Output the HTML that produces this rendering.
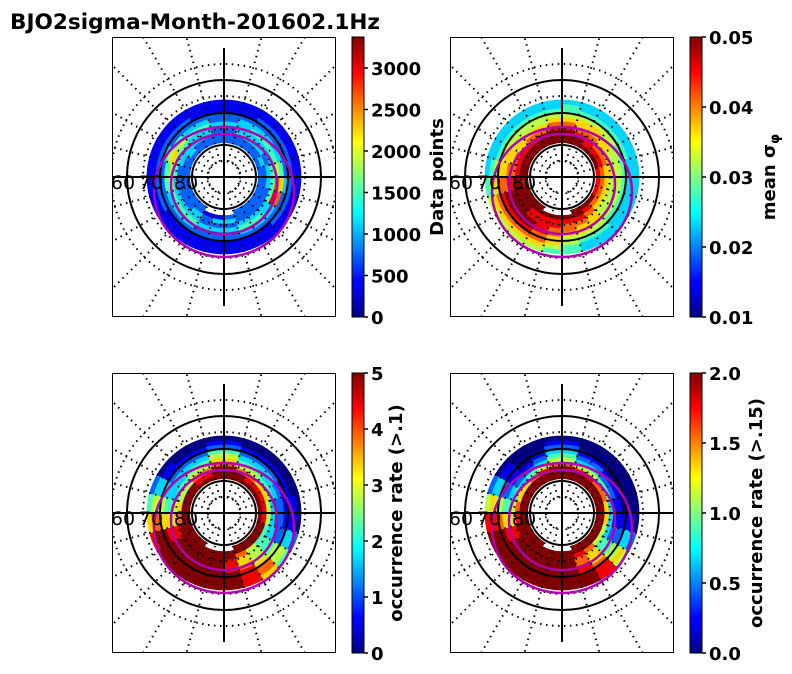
<!DOCTYPE html>
<html><head><meta charset="utf-8">
<style>
body{margin:0;background:#fff;width:792px;height:674px;overflow:hidden;font-family:"DejaVu Sans",sans-serif}
svg{display:block}
</style></head>
<body>
<svg id="s" width="792" height="674" xmlns="http://www.w3.org/2000/svg">
<defs>
<linearGradient id="jet" x1="0" y1="1" x2="0" y2="0">
<stop offset="0" stop-color="#00007f"/><stop offset="0.11" stop-color="#0000ff"/><stop offset="0.125" stop-color="#0000ff"/>
<stop offset="0.34" stop-color="#00dfff"/><stop offset="0.375" stop-color="#00ffff"/><stop offset="0.5" stop-color="#80ff80"/>
<stop offset="0.625" stop-color="#ffff00"/><stop offset="0.66" stop-color="#ffdf00"/><stop offset="0.875" stop-color="#ff0000"/><stop offset="1" stop-color="#7f0000"/>
</linearGradient>
</defs>
<text x="10" y="29" font-size="21.6" font-weight="bold">BJO2sigma-Month-201602.1Hz</text>
</svg>
<script>
// ring data (inner -> outer), 24 sectors clockwise from top; digits 0-9 = fraction of colour scale, '.' = no data
const panel1Rings=["22222222222...2222222222","222232222222112222223222","233323322223323222233332","233334443332223333444332","334445783443334445565443","233334673332223334454332","222222322222222222232222","112222222111111122222211","111111111111111111111111","111111111111111111111111"];
const panel2Rings=["99999888999...9999999999","998887777899999998999999","988776666788888999888899","877666555677888998776778","766655555667789998766667","666555555566789997665556","555544444555678887655555","444443333445677776544444","433333333334566665433333","333333333334455554333333"];
const panel3Rings=["99999999999...9999999999","998888899999999999999889","977665544579999997655779","755443334568999986544557","644332234568999985433446","533322224578999986433335","422211125689999996532224","211111135789999997531112","100001135789999997531001","000000024689999986420000"];
const panel4Rings=["99999999999...9999999999","999999999999999999999999","988776655789999998766789","755443334679999986543457","533221124679999985432235","422111124689999986421124","311000125789999997521013","200000135899999998531002","100000136899999998631001","000000025899999998520000"];
const cb1Ticks=[0,500,1000,1500,2000,2500,3000];const cb1Max=3373;
const cb2Ticks=[0.01,0.02,0.03,0.04,0.05];
const cb3Ticks=[0,1,2,3,4,5];
const cb4Ticks=[0.0,0.5,1.0,1.5,2.0];

const NS="http://www.w3.org/2000/svg";
const svg=document.getElementById('s');
function mk(t,a,p){const e=document.createElementNS(NS,t);for(const k in a)e.setAttribute(k,a[k]);(p||svg).appendChild(e);return e;}
function jet(v){v=Math.max(0,Math.min(1,v));
 const r=Math.max(0,Math.min(1,1.5-Math.abs(4*v-3))),g=Math.max(0,Math.min(1,1.5-Math.abs(4*v-2))),b=Math.max(0,Math.min(1,1.5-Math.abs(4*v-1)));
 return `rgb(${Math.round(r*255)},${Math.round(g*255)},${Math.round(b*255)})`;}
const panels=[
 {x:112,y:37,rings:panel1Rings,name:'data-points'},
 {x:450,y:37,rings:panel2Rings,name:'mean-sigma'},
 {x:112,y:373,rings:panel3Rings,name:'occurrence-01'},
 {x:450,y:373,rings:panel4Rings,name:'occurrence-015'}];
const W=224,H=280,R0=34,R1=77;
panels.forEach((p,i)=>{
 const cx=p.x+112,cy=p.y+140;
 const clip=mk('clipPath',{id:'c'+i});mk('rect',{x:p.x,y:p.y,width:W,height:H},clip);
 const g=mk('g',{'clip-path':`url(#c${i})`});
 
 
 const nr=p.rings.length,dr=(R1-R0)/nr;
 p.rings.forEach((row,ri)=>{
  const ns=row.length;
  for(let k=0;k<ns;k++){const ch=row[k];if(ch==='.')continue;
   const v=(+ch)/9,a0=(k*360/ns-0.3)*Math.PI/180,a1=((k+1)*360/ns+0.3)*Math.PI/180;
   const ra=R0+ri*dr,rb=ra+dr+0.4;
   const P=(r,a)=>`${cx+r*Math.sin(a)},${cy-r*Math.cos(a)}`;
   const c=mk('path',{d:`M${P(ra,a0)}L${P(rb,a0)}A${rb},${rb} 0 0 1 ${P(rb,a1)}L${P(ra,a1)}A${ra},${ra} 0 0 0 ${P(ra,a0)}Z`,fill:jet(v)},g);
   
   
  }});
 [16,48,81,113].forEach(r=>{mk('circle',{cx,cy,r,fill:'none',stroke:'#000','stroke-width':2,'stroke-dasharray':'1.5 4.5'},g);});
 for(let a=0;a<360;a+=15){if(a%90===0)continue;const t=a*Math.PI/180;
  mk('line',{x1:cx+16*Math.sin(t),y1:cy-16*Math.cos(t),x2:cx+170*Math.sin(t),y2:cy-170*Math.cos(t),stroke:'#000','stroke-width':2,'stroke-dasharray':'1.5 4.5'},g);}
 [32,64,97].forEach(r=>{mk('circle',{cx,cy,r,fill:'none',stroke:'#000','stroke-width':2},g);});
 mk('line',{x1:p.x,y1:cy,x2:p.x+W,y2:cy,stroke:'#000','stroke-width':2},g);
 mk('line',{x1:cx,y1:cy-129,x2:cx,y2:cy+129,stroke:'#000','stroke-width':2},g);
 const e1=mk('ellipse',{cx,cy:cy+15,rx:70,ry:65,fill:'none',stroke:'#b000b0','stroke-width':2.5},g);
 
 
 const e2=mk('ellipse',{cx,cy:cy+7,rx:53,ry:50,fill:'none',stroke:'#b000b0','stroke-width':2.5},g);
 
 
 [['60',-101],['70',-73],['80',-38]].forEach(([t,dx])=>{const tx=mk('text',{x:cx+dx,y:cy+12,'font-size':19,'text-anchor':'middle'},g);tx.textContent=t;
  
  });
 mk('rect',{x:p.x+0.5,y:p.y+0.5,width:W-1,height:H-1,fill:'none',stroke:'#000','stroke-width':1});
});
const cbs=[
 {x:352,y:37,ticks:cb1Ticks,min:0,max:cb1Max,fmt:v=>String(v),label:'Data points',lx:438},
 {x:690,y:37,ticks:cb2Ticks,min:0.01,max:0.05,fmt:v=>v.toFixed(2),label:'mean σ',lx:770,sub:true},
 {x:352,y:373,ticks:cb3Ticks,min:0,max:5,fmt:v=>String(v),label:'occurrence rate (>.1)',lx:397},
 {x:690,y:373,ticks:cb4Ticks,min:0,max:2,fmt:v=>v.toFixed(1),label:'occurrence rate (>.15)',lx:757}];
cbs.forEach(c=>{
 const r=mk('rect',{x:c.x,y:c.y,width:12,height:280,fill:'url(#jet)',stroke:'#000','stroke-width':1});
 
 
 c.ticks.forEach(v=>{const y=c.y+280-(v-c.min)/(c.max-c.min)*280;
  mk('line',{x1:c.x+12,y1:y,x2:c.x+16,y2:y,stroke:'#000','stroke-width':1.5});
  const t=mk('text',{x:c.x+19,y:y+7,'font-size':18,'font-weight':'bold'});t.textContent=c.fmt(v);
  
  });
 const cy=c.y+140;
 const t=mk('text',{x:c.lx,y:cy,'font-size':18,'font-weight':'bold','text-anchor':'middle',transform:`rotate(-90 ${c.lx} ${cy})`,'dominant-baseline':'middle'});
 t.textContent=c.label;
 if(c.sub){const ts=mk('tspan',{'font-size':13,dy:5},t);ts.textContent='φ';}
 
 
});
</script>
</body></html>
